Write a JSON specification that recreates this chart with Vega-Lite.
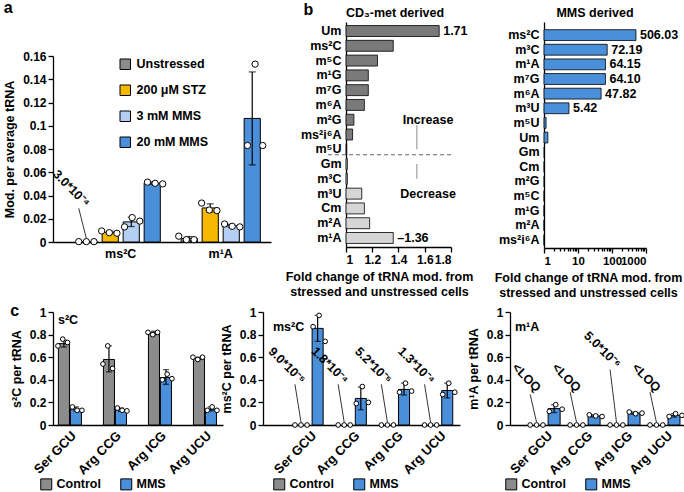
{
"$schema": "https://vega.github.io/schema/vega-lite/v6.json",
"background": "white",
"padding": {"left": 3, "top": 0, "right": 0, "bottom": 0},
"config": {
 "font": "Liberation Sans",
 "view": {"stroke": null},
 "axis": {"labelFont": "Liberation Sans", "labelFontWeight": "bold", "labelFontSize": 12, "labelColor": "black", "titleFont": "Liberation Sans", "titleFontWeight": "bold", "titleFontSize": 12.5, "titleColor": "black", "domainColor": "black", "tickColor": "black", "grid": false, "domainWidth": 1.3, "tickWidth": 1.3, "labelOverlap": false},
 "legend": {"labelFont": "Liberation Sans", "labelFontWeight": "bold", "labelFontSize": 12.5, "labelColor": "black"},
 "title": {"font": "Liberation Sans", "fontWeight": "bold", "color": "black"},
 "text": {"font": "Liberation Sans", "fontWeight": "bold", "fontSize": 12.5, "color": "black"}
},
"datasets": {
 "a_bars": [
  {"mod":"ms²C","treat":"Unstressed","mean":0.0003,"lo":null,"hi":null},
  {"mod":"ms²C","treat":"200 μM STZ","mean":0.0083,"lo":0.0073,"hi":0.0093},
  {"mod":"ms²C","treat":"3 mM MMS","mean":0.0173,"lo":0.0133,"hi":0.0213},
  {"mod":"ms²C","treat":"20 mM MMS","mean":0.0507,"lo":0.0497,"hi":0.0517},
  {"mod":"m¹A","treat":"Unstressed","mean":0.003,"lo":0.0013,"hi":0.0047},
  {"mod":"m¹A","treat":"200 μM STZ","mean":0.0293,"lo":0.0258,"hi":0.0328},
  {"mod":"m¹A","treat":"3 mM MMS","mean":0.014,"lo":0.0128,"hi":0.0152},
  {"mod":"m¹A","treat":"20 mM MMS","mean":0.1063,"lo":0.0663,"hi":0.1463}
 ],
 "a_pts": [
  {"mod":"ms²C","slot":"U1","v":0.0003},{"mod":"ms²C","slot":"U2","v":0.0003},{"mod":"ms²C","slot":"U3","v":0.0003},
  {"mod":"ms²C","slot":"S1","v":0.0095},{"mod":"ms²C","slot":"S2","v":0.008},{"mod":"ms²C","slot":"S3","v":0.0075},
  {"mod":"ms²C","slot":"L1","v":0.013},{"mod":"ms²C","slot":"L2","v":0.021},{"mod":"ms²C","slot":"L3","v":0.018},
  {"mod":"ms²C","slot":"H1","v":0.0515},{"mod":"ms²C","slot":"H2","v":0.0505},{"mod":"ms²C","slot":"H3","v":0.05},
  {"mod":"m¹A","slot":"U1","v":0.005},{"mod":"m¹A","slot":"U2","v":0.002},{"mod":"m¹A","slot":"U3","v":0.002},
  {"mod":"m¹A","slot":"S1","v":0.0335},{"mod":"m¹A","slot":"S2","v":0.0275},{"mod":"m¹A","slot":"S3","v":0.027},
  {"mod":"m¹A","slot":"L1","v":0.0155},{"mod":"m¹A","slot":"L2","v":0.0135},{"mod":"m¹A","slot":"L3","v":0.013},
  {"mod":"m¹A","slot":"H1","v":0.083},{"mod":"m¹A","slot":"H2","v":0.153},{"mod":"m¹A","slot":"H3","v":0.083}
 ],
 "a_ann": [{"mod":"ms²C","slot":"U2","v":0.033,"label":"3.0*10⁻⁴"}],
 "a_lead": [{"mod":"ms²C","slot":"U1","v":0.029,"k":0,"id":"a"},{"mod":"ms²C","slot":"U2","v":0.003,"k":1,"id":"a"}],
 "b1": [
  {"mod":"Um","fc":1.71,"dir":"inc","label":"1.71","note":null},
  {"mod":"ms²C","fc":1.36,"dir":"inc","label":null,"note":null},
  {"mod":"m⁵C","fc":1.24,"dir":"inc","label":null,"note":null},
  {"mod":"m¹G","fc":1.17,"dir":"inc","label":null,"note":null},
  {"mod":"m⁷G","fc":1.17,"dir":"inc","label":null,"note":null},
  {"mod":"m⁶A","fc":1.14,"dir":"inc","label":null,"note":null},
  {"mod":"m²G","fc":1.06,"dir":"inc","label":null,"note":"Increase"},
  {"mod":"ms²i⁶A","fc":1.05,"dir":"inc","label":null,"note":null},
  {"mod":"m⁵U","fc":1.005,"dir":"inc","label":null,"note":null},
  {"mod":"Gm","fc":1.01,"dir":"dec","label":null,"note":null},
  {"mod":"m³C","fc":1.01,"dir":"dec","label":null,"note":null},
  {"mod":"m³U","fc":1.12,"dir":"dec","label":null,"note":"Decrease"},
  {"mod":"Cm","fc":1.14,"dir":"dec","label":null,"note":null},
  {"mod":"m²A","fc":1.18,"dir":"dec","label":null,"note":null},
  {"mod":"m¹A","fc":1.36,"dir":"dec","label":"–1.36","note":null}
 ],
 "b2": [
  {"mod":"ms²C","fc":506.03,"label":"506.03"},
  {"mod":"m³C","fc":72.19,"label":"72.19"},
  {"mod":"m¹A","fc":64.15,"label":"64.15"},
  {"mod":"m⁷G","fc":64.10,"label":"64.10"},
  {"mod":"m⁶A","fc":47.82,"label":"47.82"},
  {"mod":"m³U","fc":5.42,"label":"5.42"},
  {"mod":"m⁵U","fc":1.15,"label":null},
  {"mod":"Um","fc":1.3,"label":null},
  {"mod":"Gm","fc":1.03,"label":null},
  {"mod":"Cm","fc":1.02,"label":null},
  {"mod":"m²G","fc":1.02,"label":null},
  {"mod":"m⁵C","fc":1.01,"label":null},
  {"mod":"m¹G","fc":1.005,"label":null},
  {"mod":"m²A","fc":1.003,"label":null},
  {"mod":"ms²i⁶A","fc":1.002,"label":null}
 ],
 "cl_bars": [
  {"grp":"Ser GCU","cond":"Control","mean":0.72,"lo":0.69,"hi":0.75},
  {"grp":"Ser GCU","cond":"MMS","mean":0.14,"lo":0.125,"hi":0.16},
  {"grp":"Arg CCG","cond":"Control","mean":0.58,"lo":0.47,"hi":0.70},
  {"grp":"Arg CCG","cond":"MMS","mean":0.135,"lo":0.12,"hi":0.15},
  {"grp":"Arg ICG","cond":"Control","mean":0.815,"lo":0.80,"hi":0.83},
  {"grp":"Arg ICG","cond":"MMS","mean":0.42,"lo":0.36,"hi":0.49},
  {"grp":"Arg UCU","cond":"Control","mean":0.59,"lo":0.58,"hi":0.60},
  {"grp":"Arg UCU","cond":"MMS","mean":0.14,"lo":0.125,"hi":0.16}
 ],
 "cl_pts": [
  {"grp":"Ser GCU","slot":"C1","v":0.70},{"grp":"Ser GCU","slot":"C2","v":0.76},{"grp":"Ser GCU","slot":"C3","v":0.73},
  {"grp":"Ser GCU","slot":"M1","v":0.16},{"grp":"Ser GCU","slot":"M2","v":0.13},{"grp":"Ser GCU","slot":"M3","v":0.13},
  {"grp":"Arg CCG","slot":"C1","v":0.54},{"grp":"Arg CCG","slot":"C2","v":0.70},{"grp":"Arg CCG","slot":"C3","v":0.50},
  {"grp":"Arg CCG","slot":"M1","v":0.15},{"grp":"Arg CCG","slot":"M2","v":0.13},{"grp":"Arg CCG","slot":"M3","v":0.125},
  {"grp":"Arg ICG","slot":"C1","v":0.82},{"grp":"Arg ICG","slot":"C2","v":0.80},{"grp":"Arg ICG","slot":"C3","v":0.82},
  {"grp":"Arg ICG","slot":"M1","v":0.40},{"grp":"Arg ICG","slot":"M2","v":0.45},{"grp":"Arg ICG","slot":"M3","v":0.41},
  {"grp":"Arg UCU","slot":"C1","v":0.60},{"grp":"Arg UCU","slot":"C2","v":0.58},{"grp":"Arg UCU","slot":"C3","v":0.60},
  {"grp":"Arg UCU","slot":"M1","v":0.13},{"grp":"Arg UCU","slot":"M2","v":0.16},{"grp":"Arg UCU","slot":"M3","v":0.13}
 ],
 "cm_bars": [
  {"grp":"Ser GCU","cond":"MMS","mean":0.855,"lo":0.74,"hi":0.97},
  {"grp":"Arg CCG","cond":"MMS","mean":0.235,"lo":0.135,"hi":0.335},
  {"grp":"Arg ICG","cond":"MMS","mean":0.315,"lo":0.265,"hi":0.37},
  {"grp":"Arg UCU","cond":"MMS","mean":0.305,"lo":0.24,"hi":0.37}
 ],
 "cm_pts": [
  {"grp":"Ser GCU","slot":"C1","v":0.0},{"grp":"Ser GCU","slot":"C2","v":0.0},{"grp":"Ser GCU","slot":"C3","v":0.0},
  {"grp":"Ser GCU","slot":"M1","v":0.87},{"grp":"Ser GCU","slot":"M2","v":0.97},{"grp":"Ser GCU","slot":"M3","v":0.74},
  {"grp":"Arg CCG","slot":"C1","v":0.0},{"grp":"Arg CCG","slot":"C2","v":0.0},{"grp":"Arg CCG","slot":"C3","v":0.0},
  {"grp":"Arg CCG","slot":"M1","v":0.19},{"grp":"Arg CCG","slot":"M2","v":0.34},{"grp":"Arg CCG","slot":"M3","v":0.20},
  {"grp":"Arg ICG","slot":"C1","v":0.0},{"grp":"Arg ICG","slot":"C2","v":0.0},{"grp":"Arg ICG","slot":"C3","v":0.0},
  {"grp":"Arg ICG","slot":"M1","v":0.29},{"grp":"Arg ICG","slot":"M2","v":0.37},{"grp":"Arg ICG","slot":"M3","v":0.30},
  {"grp":"Arg UCU","slot":"C1","v":0.0},{"grp":"Arg UCU","slot":"C2","v":0.0},{"grp":"Arg UCU","slot":"C3","v":0.0},
  {"grp":"Arg UCU","slot":"M1","v":0.27},{"grp":"Arg UCU","slot":"M2","v":0.37},{"grp":"Arg UCU","slot":"M3","v":0.29}
 ],
 "cm_ann": [
  {"grp":"Ser GCU","slot":"C2","v":0.40,"label":"9.0*10⁻⁵"},
  {"grp":"Arg CCG","slot":"C2","v":0.40,"label":"1.8*10⁻⁴"},
  {"grp":"Arg ICG","slot":"C2","v":0.40,"label":"5.2*10⁻⁵"},
  {"grp":"Arg UCU","slot":"C2","v":0.40,"label":"1.3*10⁻⁴"}
 ],
 "cm_lead": [
  {"grp":"Ser GCU","slot":"C1","v":0.36,"k":0,"id":"s"},{"grp":"Ser GCU","slot":"C2","v":0.025,"k":1,"id":"s"},
  {"grp":"Arg CCG","slot":"C1","v":0.36,"k":0,"id":"c"},{"grp":"Arg CCG","slot":"C2","v":0.025,"k":1,"id":"c"},
  {"grp":"Arg ICG","slot":"C1","v":0.36,"k":0,"id":"i"},{"grp":"Arg ICG","slot":"C2","v":0.025,"k":1,"id":"i"},
  {"grp":"Arg UCU","slot":"C1","v":0.36,"k":0,"id":"u"},{"grp":"Arg UCU","slot":"C2","v":0.025,"k":1,"id":"u"}
 ],
 "cr_bars": [
  {"grp":"Ser GCU","cond":"MMS","mean":0.145,"lo":0.11,"hi":0.18},
  {"grp":"Arg CCG","cond":"MMS","mean":0.08,"lo":0.07,"hi":0.09},
  {"grp":"Arg ICG","cond":"MMS","mean":0.105,"lo":0.095,"hi":0.115},
  {"grp":"Arg UCU","cond":"MMS","mean":0.085,"lo":0.07,"hi":0.10}
 ],
 "cr_pts": [
  {"grp":"Ser GCU","slot":"C1","v":0.0},{"grp":"Ser GCU","slot":"C2","v":0.0},{"grp":"Ser GCU","slot":"C3","v":0.0},
  {"grp":"Ser GCU","slot":"M1","v":0.12},{"grp":"Ser GCU","slot":"M2","v":0.18},{"grp":"Ser GCU","slot":"M3","v":0.14},
  {"grp":"Arg CCG","slot":"C1","v":0.0},{"grp":"Arg CCG","slot":"C2","v":0.0},{"grp":"Arg CCG","slot":"C3","v":0.0},
  {"grp":"Arg CCG","slot":"M1","v":0.09},{"grp":"Arg CCG","slot":"M2","v":0.08},{"grp":"Arg CCG","slot":"M3","v":0.075},
  {"grp":"Arg ICG","slot":"C1","v":0.0},{"grp":"Arg ICG","slot":"C2","v":0.0},{"grp":"Arg ICG","slot":"C3","v":0.0},
  {"grp":"Arg ICG","slot":"M1","v":0.115},{"grp":"Arg ICG","slot":"M2","v":0.10},{"grp":"Arg ICG","slot":"M3","v":0.105},
  {"grp":"Arg UCU","slot":"C1","v":0.0},{"grp":"Arg UCU","slot":"C2","v":0.0},{"grp":"Arg UCU","slot":"C3","v":0.0},
  {"grp":"Arg UCU","slot":"M1","v":0.075},{"grp":"Arg UCU","slot":"M2","v":0.10},{"grp":"Arg UCU","slot":"M3","v":0.085}
 ],
 "cr_ann": [
  {"grp":"Ser GCU","slot":"C2","v":0.33,"label":"<LOQ"},
  {"grp":"Arg CCG","slot":"C2","v":0.33,"label":"<LOQ"},
  {"grp":"Arg ICG","slot":"C2","v":0.54,"label":"5.0*10⁻⁶"},
  {"grp":"Arg UCU","slot":"C2","v":0.33,"label":"<LOQ"}
 ],
 "cr_lead": [
  {"grp":"Ser GCU","slot":"C1","v":0.27,"k":0,"id":"s"},{"grp":"Ser GCU","slot":"C2","v":0.025,"k":1,"id":"s"},
  {"grp":"Arg CCG","slot":"C1","v":0.29,"k":0,"id":"c"},{"grp":"Arg CCG","slot":"C2","v":0.025,"k":1,"id":"c"},
  {"grp":"Arg ICG","slot":"C1","v":0.49,"k":0,"id":"i"},{"grp":"Arg ICG","slot":"C2","v":0.025,"k":1,"id":"i"},
  {"grp":"Arg UCU","slot":"C1","v":0.29,"k":0,"id":"u"},{"grp":"Arg UCU","slot":"C2","v":0.025,"k":1,"id":"u"}
 ]
},
"spacing": 4,
"resolve": {"scale": {"color": "independent"}, "legend": {"color": "independent"}},
"vconcat": [
 {"bounds": "flush", "spacing": 75,
  "resolve": {"scale": {"color": "independent", "y": "independent", "x": "independent"}, "legend": {"color": "independent"}},
  "hconcat": [
  {
   "width": 218, "height": 220,
   "title": {"text": "a", "anchor": "start", "frame": "bounds", "fontSize": 16, "offset": 6},
   "resolve": {"scale": {"xOffset": "independent"}},
   "encoding": {
    "x": {"field": "mod", "type": "nominal", "sort": ["ms²C","m¹A"], "scale": {"domain": ["ms²C","m¹A"], "paddingInner": 0.16, "paddingOuter": 0.17, "align": 0.757}, "axis": {"title": null, "labelAngle": 0, "ticks": false, "labelPadding": 5, "labelFontSize": 12.5}}
   },
   "layer": [
    {"data": {"name": "a_bars"},
     "mark": {"type": "bar", "stroke": "black", "strokeWidth": 1},
     "encoding": {
      "xOffset": {"field": "treat", "type": "nominal", "sort": ["Unstressed","200 μM STZ","3 mM MMS","20 mM MMS"], "scale": {"domain": ["Unstressed","200 μM STZ","3 mM MMS","20 mM MMS"], "paddingInner": 0.23, "paddingOuter": 0.115}},
      "y": {"field": "mean", "type": "quantitative", "title": "Mod. per average tRNA", "scale": {"domain": [0, 0.16], "range": [220, 34], "nice": false}, "axis": {"values": [0,0.02,0.04,0.06,0.08,0.1,0.12,0.14,0.16], "format": "~g", "tickSize": 5, "titlePadding": 6, "labelOverlap": false}},
      "color": {"field": "treat", "type": "nominal", "sort": ["Unstressed","200 μM STZ","3 mM MMS","20 mM MMS"], "scale": {"domain": ["Unstressed","200 μM STZ","3 mM MMS","20 mM MMS"], "range": ["#8c8c8c","#f6b900","#b5cff3","#4a8fd9"]},
        "legend": {"orient": "none", "legendX": 66, "legendY": 36, "title": null, "symbolType": "square", "symbolSize": 110, "symbolStrokeColor": "black", "symbolStrokeWidth": 1, "rowPadding": 11, "labelOffset": 5}}
     }},
    {"data": {"name": "a_bars"}, "transform": [{"filter": "datum.hi != null"}],
     "mark": {"type": "rule", "color": "black", "strokeWidth": 1.2},
     "encoding": {
      "xOffset": {"field": "treat", "type": "nominal", "scale": {"domain": ["Unstressed","200 μM STZ","3 mM MMS","20 mM MMS"], "paddingInner": 0.23, "paddingOuter": 0.115}},
      "y": {"field": "lo", "type": "quantitative", "title": "Mod. per average tRNA", "axis": {"values": [0,0.02,0.04,0.06,0.08,0.1,0.12,0.14,0.16], "format": "~g", "tickSize": 5, "titlePadding": 6, "labelOverlap": false}}, "y2": {"field": "hi"}
     }},
    {"data": {"name": "a_bars"}, "transform": [{"filter": "datum.hi != null"}],
     "mark": {"type": "tick", "color": "black", "thickness": 1.2, "size": 7},
     "encoding": {
      "xOffset": {"field": "treat", "type": "nominal", "scale": {"domain": ["Unstressed","200 μM STZ","3 mM MMS","20 mM MMS"], "paddingInner": 0.23, "paddingOuter": 0.115}},
      "y": {"field": "hi", "type": "quantitative", "title": "Mod. per average tRNA", "axis": {"values": [0,0.02,0.04,0.06,0.08,0.1,0.12,0.14,0.16], "format": "~g", "tickSize": 5, "titlePadding": 6, "labelOverlap": false}}
     }},
    {"data": {"name": "a_bars"}, "transform": [{"filter": "datum.hi != null"}],
     "mark": {"type": "tick", "color": "black", "thickness": 1.2, "size": 7},
     "encoding": {
      "xOffset": {"field": "treat", "type": "nominal", "scale": {"domain": ["Unstressed","200 μM STZ","3 mM MMS","20 mM MMS"], "paddingInner": 0.23, "paddingOuter": 0.115}},
      "y": {"field": "lo", "type": "quantitative", "title": "Mod. per average tRNA", "axis": {"values": [0,0.02,0.04,0.06,0.08,0.1,0.12,0.14,0.16], "format": "~g", "tickSize": 5, "titlePadding": 6, "labelOverlap": false}}
     }},
    {"data": {"name": "a_lead"},
     "mark": {"type": "line", "color": "black", "strokeWidth": 0.8},
     "encoding": {
      "xOffset": {"field": "slot", "type": "nominal", "scale": {"domain": ["U1","U2","U3","S1","S2","S3","L1","L2","L3","H1","H2","H3"], "paddingInner": 0, "paddingOuter": 0}},
      "y": {"field": "v", "type": "quantitative", "title": "Mod. per average tRNA", "axis": {"values": [0,0.02,0.04,0.06,0.08,0.1,0.12,0.14,0.16], "format": "~g", "tickSize": 5, "titlePadding": 6, "labelOverlap": false}},
      "order": {"field": "k"}, "detail": {"field": "id"}
     }},
    {"data": {"name": "a_pts"},
     "mark": {"type": "point", "shape": "circle", "filled": true, "fill": "white", "stroke": "black", "strokeWidth": 1, "size": 40, "opacity": 1},
     "encoding": {
      "xOffset": {"field": "slot", "type": "nominal", "scale": {"domain": ["U1","U2","U3","S1","S2","S3","L1","L2","L3","H1","H2","H3"], "paddingInner": 0, "paddingOuter": 0}},
      "y": {"field": "v", "type": "quantitative", "title": "Mod. per average tRNA", "axis": {"values": [0,0.02,0.04,0.06,0.08,0.1,0.12,0.14,0.16], "format": "~g", "tickSize": 5, "titlePadding": 6, "labelOverlap": false}}
     }},
    {"data": {"name": "a_ann"},
     "mark": {"type": "text", "angle": 45, "align": "right", "baseline": "middle", "dx": 2},
     "encoding": {
      "xOffset": {"field": "slot", "type": "nominal", "scale": {"domain": ["U1","U2","U3","S1","S2","S3","L1","L2","L3","H1","H2","H3"], "paddingInner": 0, "paddingOuter": 0}},
      "y": {"field": "v", "type": "quantitative", "title": "Mod. per average tRNA", "axis": {"values": [0,0.02,0.04,0.06,0.08,0.1,0.12,0.14,0.16], "format": "~g", "tickSize": 5, "titlePadding": 6, "labelOverlap": false}},
      "text": {"field": "label"}
     }}
   ]
  },
  {
   "width": 123, "height": 225,
   "title": {"text": "CD₃-met derived", "anchor": "start", "frame": "group", "fontSize": 12.5, "offset": -18},
   "data": {"name": "b1"},
   "encoding": {
    "y": {"field": "mod", "type": "nominal", "sort": null, "scale": {"domain": ["Um","ms²C","m⁵C","m¹G","m⁷G","m⁶A","m²G","ms²i⁶A","m⁵U","Gm","m³C","m³U","Cm","m²A","m¹A"], "paddingInner": 0.26, "paddingOuter": 0.24}, "axis": {"title": "b", "titleAngle": 0, "titleAlign": "left", "titleBaseline": "alphabetic", "titleX": -43, "titleY": -8, "titleFontSize": 16, "ticks": false, "labelPadding": 5, "labelFontSize": 12.5}},
    "x": {"field": "fc", "type": "quantitative", "scale": {"domain": [1, 1.8], "range": [0, 105], "nice": false, "zero": false}, "axis": {"values": [1,1.2,1.4,1.6,1.8], "format": "~g", "tickSize": 5, "labelOverlap": false, "title": ["Fold change of tRNA mod. from", "stressed and unstressed cells"], "titleX": 33, "titlePadding": 5, "titleLineHeight": 15}}
   },
   "layer": [
    {"mark": {"type": "bar", "stroke": "black", "strokeWidth": 0.8},
     "encoding": {
      "x2": {"datum": 1},
      "color": {"field": "dir", "type": "nominal", "scale": {"domain": ["inc","dec"], "range": ["#7a7a7a","#d6d6d6"]}, "legend": null}
     }},
    {"transform": [{"filter": "datum.label != null"}],
     "mark": {"type": "text", "align": "left", "baseline": "middle", "dx": 4},
     "encoding": {"text": {"field": "label"}}},
    {"transform": [{"filter": "datum.mod == 'm⁵U'"}],
     "mark": {"type": "rule", "strokeDash": [4, 3], "color": "#666666", "strokeWidth": 1},
     "encoding": {"y": {"field": "mod", "type": "nominal", "bandPosition": 1}, "x": {"datum": 0.863}, "x2": {"datum": 1.82}}},
    {"transform": [{"filter": "datum.mod == 'm²G'"}],
     "mark": {"type": "rule", "color": "#888888", "strokeWidth": 1},
     "encoding": {"y": {"field": "mod", "type": "nominal", "bandPosition": 1}, "y2": {"datum": "m⁵U"}, "x": {"datum": 1.54}}},
    {"transform": [{"filter": "datum.mod == 'Gm'"}],
     "mark": {"type": "rule", "color": "#888888", "strokeWidth": 1},
     "encoding": {"y2": {"datum": "m³C"}, "x": {"datum": 1.54}}},
    {"transform": [{"filter": "datum.note != null"}],
     "mark": {"type": "text", "align": "center", "baseline": "middle"},
     "encoding": {"x": {"datum": 1.625}, "text": {"field": "note"}}}
   ]
  },
  {
   "width": 102, "height": 226,
   "title": {"text": "MMS derived", "anchor": "middle", "fontSize": 12.5, "offset": 3},
   "data": {"name": "b2"},
   "encoding": {
    "y": {"field": "mod", "type": "nominal", "sort": null, "scale": {"domain": ["ms²C","m³C","m¹A","m⁷G","m⁶A","m³U","m⁵U","Um","Gm","Cm","m²G","m⁵C","m¹G","m²A","ms²i⁶A"], "paddingInner": 0.26, "paddingOuter": 0.35, "align": 0.75}, "axis": {"title": null, "ticks": false, "labelPadding": 5, "labelFontSize": 12.5}},
    "x": {"field": "fc", "type": "quantitative", "scale": {"type": "log", "domain": [1, 1000], "nice": false}, "axis": {"values": [1,2,3,4,5,6,7,8,9,10,20,30,40,50,60,70,80,90,100,200,300,400,500,600,700,800,900,1000], "labelExpr": "indexof([1,10,100,1000], datum.value) >= 0 ? format(datum.value, 'd') : ''", "labelOverlap": false, "tickSize": {"condition": {"test": "indexof([1,10,100,1000], datum.value) >= 0", "value": 5}, "value": 3}, "title": ["Fold change of tRNA mod. from", "stressed and unstressed cells"], "titleX": 44, "titlePadding": 5, "titleLineHeight": 15, "labelFontSize": 11.5}}
   },
   "layer": [
    {"mark": {"type": "bar", "stroke": "black", "strokeWidth": 0.8, "color": "#4a8fd9"},
     "encoding": {"x2": {"datum": 1}}},
    {"transform": [{"filter": "datum.label != null"}],
     "mark": {"type": "text", "align": "left", "baseline": "middle", "dx": 4},
     "encoding": {"text": {"field": "label"}}}
   ]
  }
 ]},
 {"bounds": "flush", "spacing": 40,
  "resolve": {"scale": {"color": "independent", "y": "independent", "x": "independent"}, "legend": {"color": "independent"}},
  "hconcat": [
  {
   "width": 170, "height": 113,
   "title": {"text": "c", "anchor": "start", "frame": "bounds", "fontSize": 16, "offset": -13},
   "resolve": {"scale": {"xOffset": "independent"}},
   "encoding": {
    "x": {"field": "grp", "type": "nominal", "sort": ["Ser GCU","Arg CCG","Arg ICG","Arg UCU"], "scale": {"domain": ["Ser GCU","Arg CCG","Arg ICG","Arg UCU"], "paddingInner": 0.467, "paddingOuter": 0.122, "align": 0.45}, "axis": {"title": null, "labelAngle": -45, "ticks": false, "labelPadding": 4, "labelFontSize": 13}}
   },
   "layer": [
    {"data": {"name": "cl_bars"},
     "mark": {"type": "bar", "stroke": "black", "strokeWidth": 1},
     "encoding": {
      "xOffset": {"field": "cond", "type": "nominal", "scale": {"domain": ["Control","MMS"], "paddingInner": 0.08, "paddingOuter": 0.04}},
      "y": {"field": "mean", "type": "quantitative", "title": "s²C per tRNA", "scale": {"domain": [0, 1], "nice": false}, "axis": {"values": [0,0.2,0.4,0.6,0.8,1], "format": "~g", "tickSize": 5, "titlePadding": 6, "labelOverlap": false}},
      "color": {"field": "cond", "type": "nominal", "scale": {"domain": ["Control","MMS"], "range": ["#8c8c8c","#4a8fd9"]},
        "legend": {"orient": "none", "legendX": -13, "legendY": 166, "direction": "horizontal", "title": null, "symbolType": "square", "symbolSize": 121, "symbolStrokeColor": "black", "symbolStrokeWidth": 1, "columnPadding": 17, "labelOffset": 4}}
     }},
    {"data": {"name": "cl_bars"},
     "mark": {"type": "rule", "color": "black", "strokeWidth": 1.2},
     "encoding": {"xOffset": {"field": "cond", "type": "nominal", "scale": {"domain": ["Control","MMS"], "paddingInner": 0.08, "paddingOuter": 0.04}}, "y": {"field": "lo", "type": "quantitative", "title": "s²C per tRNA", "axis": {"values": [0,0.2,0.4,0.6,0.8,1], "format": "~g", "tickSize": 5, "titlePadding": 6, "labelOverlap": false}}, "y2": {"field": "hi"}}},
    {"data": {"name": "cl_bars"},
     "mark": {"type": "tick", "color": "black", "thickness": 1.2, "size": 6},
     "encoding": {"xOffset": {"field": "cond", "type": "nominal", "scale": {"domain": ["Control","MMS"], "paddingInner": 0.08, "paddingOuter": 0.04}}, "y": {"field": "hi", "type": "quantitative", "title": "s²C per tRNA", "axis": {"values": [0,0.2,0.4,0.6,0.8,1], "format": "~g", "tickSize": 5, "titlePadding": 6, "labelOverlap": false}}}},
    {"data": {"name": "cl_bars"},
     "mark": {"type": "tick", "color": "black", "thickness": 1.2, "size": 6},
     "encoding": {"xOffset": {"field": "cond", "type": "nominal", "scale": {"domain": ["Control","MMS"], "paddingInner": 0.08, "paddingOuter": 0.04}}, "y": {"field": "lo", "type": "quantitative", "title": "s²C per tRNA", "axis": {"values": [0,0.2,0.4,0.6,0.8,1], "format": "~g", "tickSize": 5, "titlePadding": 6, "labelOverlap": false}}}},
    {"data": {"name": "cl_pts"},
     "mark": {"type": "point", "shape": "circle", "filled": true, "fill": "white", "stroke": "black", "strokeWidth": 1, "size": 22, "opacity": 1},
     "encoding": {"xOffset": {"field": "slot", "type": "nominal", "scale": {"domain": ["C1","C2","C3","M1","M2","M3"], "paddingInner": 0, "paddingOuter": 0}}, "y": {"field": "v", "type": "quantitative", "title": "s²C per tRNA", "axis": {"values": [0,0.2,0.4,0.6,0.8,1], "format": "~g", "tickSize": 5, "titlePadding": 6, "labelOverlap": false}}}},
    {"data": {"name": "cl_pts"}, "transform": [{"filter": "datum.grp == 'Ser GCU' && datum.slot == 'C1'"}],
     "mark": {"type": "text", "align": "left", "baseline": "middle"},
     "encoding": {"x": {"field": "grp", "type": "nominal", "bandPosition": 0}, "y": {"datum": 0.93, "type": "quantitative", "title": "s²C per tRNA", "axis": {"values": [0,0.2,0.4,0.6,0.8,1], "format": "~g", "tickSize": 5, "titlePadding": 6, "labelOverlap": false}}, "text": {"value": "s²C"}}}
   ]
  },
  {
   "width": 207, "height": 113,
   "title": {"text": "ms²C", "anchor": "start", "frame": "group", "fontSize": 12.5, "dx": 10, "offset": -27},
   "resolve": {"scale": {"xOffset": "independent"}},
   "encoding": {
    "x": {"field": "grp", "type": "nominal", "sort": ["Ser GCU","Arg CCG","Arg ICG","Arg UCU"], "scale": {"domain": ["Ser GCU","Arg CCG","Arg ICG","Arg UCU"], "range": [0, 197], "paddingInner": 0.3, "paddingOuter": 0.43, "align": 0.86}, "axis": {"title": null, "labelAngle": -45, "ticks": false, "labelPadding": 4, "labelFontSize": 13}}
   },
   "layer": [
    {"data": {"name": "cm_bars"},
     "mark": {"type": "bar", "stroke": "black", "strokeWidth": 1},
     "encoding": {
      "xOffset": {"field": "cond", "type": "nominal", "scale": {"domain": ["Control","MMS"], "paddingInner": 0.27, "paddingOuter": 0.135}},
      "y": {"field": "mean", "type": "quantitative", "title": "ms²C per tRNA", "scale": {"domain": [0, 1], "nice": false}, "axis": {"values": [0,0.2,0.4,0.6,0.8,1], "format": "~g", "tickSize": 5, "titlePadding": 6, "labelOverlap": false}},
      "color": {"field": "cond", "type": "nominal", "scale": {"domain": ["Control","MMS"], "range": ["#8c8c8c","#4a8fd9"]},
        "legend": {"orient": "none", "legendX": 10, "legendY": 166, "direction": "horizontal", "title": null, "symbolType": "square", "symbolSize": 121, "symbolStrokeColor": "black", "symbolStrokeWidth": 1, "columnPadding": 17, "labelOffset": 4}}
     }},
    {"data": {"name": "cm_bars"},
     "mark": {"type": "rule", "color": "black", "strokeWidth": 1.2},
     "encoding": {"xOffset": {"field": "cond", "type": "nominal", "scale": {"domain": ["Control","MMS"], "paddingInner": 0.27, "paddingOuter": 0.135}}, "y": {"field": "lo", "type": "quantitative", "title": "ms²C per tRNA", "axis": {"values": [0,0.2,0.4,0.6,0.8,1], "format": "~g", "tickSize": 5, "titlePadding": 6, "labelOverlap": false}}, "y2": {"field": "hi"}}},
    {"data": {"name": "cm_bars"},
     "mark": {"type": "tick", "color": "black", "thickness": 1.2, "size": 6},
     "encoding": {"xOffset": {"field": "cond", "type": "nominal", "scale": {"domain": ["Control","MMS"], "paddingInner": 0.27, "paddingOuter": 0.135}}, "y": {"field": "hi", "type": "quantitative", "title": "ms²C per tRNA", "axis": {"values": [0,0.2,0.4,0.6,0.8,1], "format": "~g", "tickSize": 5, "titlePadding": 6, "labelOverlap": false}}}},
    {"data": {"name": "cm_bars"},
     "mark": {"type": "tick", "color": "black", "thickness": 1.2, "size": 6},
     "encoding": {"xOffset": {"field": "cond", "type": "nominal", "scale": {"domain": ["Control","MMS"], "paddingInner": 0.27, "paddingOuter": 0.135}}, "y": {"field": "lo", "type": "quantitative", "title": "ms²C per tRNA", "axis": {"values": [0,0.2,0.4,0.6,0.8,1], "format": "~g", "tickSize": 5, "titlePadding": 6, "labelOverlap": false}}}},
    {"data": {"name": "cm_lead"},
     "mark": {"type": "line", "color": "black", "strokeWidth": 0.8},
     "encoding": {"xOffset": {"field": "slot", "type": "nominal", "scale": {"domain": ["C1","C2","C3","M1","M2","M3"], "paddingInner": 0, "paddingOuter": 0}}, "y": {"field": "v", "type": "quantitative", "title": "ms²C per tRNA", "axis": {"values": [0,0.2,0.4,0.6,0.8,1], "format": "~g", "tickSize": 5, "titlePadding": 6, "labelOverlap": false}}, "order": {"field": "k"}, "detail": {"field": "id"}}},
    {"data": {"name": "cm_pts"},
     "mark": {"type": "point", "shape": "circle", "filled": true, "fill": "white", "stroke": "black", "strokeWidth": 1, "size": 22, "opacity": 1},
     "encoding": {"xOffset": {"field": "slot", "type": "nominal", "scale": {"domain": ["C1","C2","C3","M1","M2","M3"], "paddingInner": 0, "paddingOuter": 0}}, "y": {"field": "v", "type": "quantitative", "title": "ms²C per tRNA", "axis": {"values": [0,0.2,0.4,0.6,0.8,1], "format": "~g", "tickSize": 5, "titlePadding": 6, "labelOverlap": false}}}},
    {"data": {"name": "cm_ann"},
     "mark": {"type": "text", "angle": 45, "align": "right", "baseline": "middle", "dx": 3},
     "encoding": {"xOffset": {"field": "slot", "type": "nominal", "scale": {"domain": ["C1","C2","C3","M1","M2","M3"], "paddingInner": 0, "paddingOuter": 0}}, "y": {"field": "v", "type": "quantitative", "title": "ms²C per tRNA", "axis": {"values": [0,0.2,0.4,0.6,0.8,1], "format": "~g", "tickSize": 5, "titlePadding": 6, "labelOverlap": false}}, "text": {"field": "label"}}}
   ]
  },
  {
   "width": 175, "height": 113,
   "title": {"text": "m¹A", "anchor": "start", "frame": "group", "fontSize": 12.5, "dx": 5, "offset": -27},
   "resolve": {"scale": {"xOffset": "independent"}},
   "encoding": {
    "x": {"field": "grp", "type": "nominal", "sort": ["Ser GCU","Arg CCG","Arg ICG","Arg UCU"], "scale": {"domain": ["Ser GCU","Arg CCG","Arg ICG","Arg UCU"], "paddingInner": 0.2, "paddingOuter": 0.29, "align": 0.87}, "axis": {"title": null, "labelAngle": -45, "ticks": false, "labelPadding": 4, "labelFontSize": 13}}
   },
   "layer": [
    {"data": {"name": "cr_bars"},
     "mark": {"type": "bar", "stroke": "black", "strokeWidth": 1},
     "encoding": {
      "xOffset": {"field": "cond", "type": "nominal", "scale": {"domain": ["Control","MMS"], "paddingInner": 0.25, "paddingOuter": 0.125}},
      "y": {"field": "mean", "type": "quantitative", "title": "m¹A per tRNA", "scale": {"domain": [0, 1], "nice": false}, "axis": {"values": [0,0.2,0.4,0.6,0.8,1], "format": "~g", "tickSize": 5, "titlePadding": 6, "labelOverlap": false}},
      "color": {"field": "cond", "type": "nominal", "scale": {"domain": ["Control","MMS"], "range": ["#8c8c8c","#4a8fd9"]},
        "legend": {"orient": "none", "legendX": -5, "legendY": 166, "direction": "horizontal", "title": null, "symbolType": "square", "symbolSize": 121, "symbolStrokeColor": "black", "symbolStrokeWidth": 1, "columnPadding": 17, "labelOffset": 4}}
     }},
    {"data": {"name": "cr_bars"},
     "mark": {"type": "rule", "color": "black", "strokeWidth": 1.2},
     "encoding": {"xOffset": {"field": "cond", "type": "nominal", "scale": {"domain": ["Control","MMS"], "paddingInner": 0.25, "paddingOuter": 0.125}}, "y": {"field": "lo", "type": "quantitative", "title": "m¹A per tRNA", "axis": {"values": [0,0.2,0.4,0.6,0.8,1], "format": "~g", "tickSize": 5, "titlePadding": 6, "labelOverlap": false}}, "y2": {"field": "hi"}}},
    {"data": {"name": "cr_bars"},
     "mark": {"type": "tick", "color": "black", "thickness": 1.2, "size": 6},
     "encoding": {"xOffset": {"field": "cond", "type": "nominal", "scale": {"domain": ["Control","MMS"], "paddingInner": 0.25, "paddingOuter": 0.125}}, "y": {"field": "hi", "type": "quantitative", "title": "m¹A per tRNA", "axis": {"values": [0,0.2,0.4,0.6,0.8,1], "format": "~g", "tickSize": 5, "titlePadding": 6, "labelOverlap": false}}}},
    {"data": {"name": "cr_bars"},
     "mark": {"type": "tick", "color": "black", "thickness": 1.2, "size": 6},
     "encoding": {"xOffset": {"field": "cond", "type": "nominal", "scale": {"domain": ["Control","MMS"], "paddingInner": 0.25, "paddingOuter": 0.125}}, "y": {"field": "lo", "type": "quantitative", "title": "m¹A per tRNA", "axis": {"values": [0,0.2,0.4,0.6,0.8,1], "format": "~g", "tickSize": 5, "titlePadding": 6, "labelOverlap": false}}}},
    {"data": {"name": "cr_lead"},
     "mark": {"type": "line", "color": "black", "strokeWidth": 0.8},
     "encoding": {"xOffset": {"field": "slot", "type": "nominal", "scale": {"domain": ["C1","C2","C3","M1","M2","M3"], "paddingInner": 0, "paddingOuter": 0}}, "y": {"field": "v", "type": "quantitative", "title": "m¹A per tRNA", "axis": {"values": [0,0.2,0.4,0.6,0.8,1], "format": "~g", "tickSize": 5, "titlePadding": 6, "labelOverlap": false}}, "order": {"field": "k"}, "detail": {"field": "id"}}},
    {"data": {"name": "cr_pts"},
     "mark": {"type": "point", "shape": "circle", "filled": true, "fill": "white", "stroke": "black", "strokeWidth": 1, "size": 22, "opacity": 1},
     "encoding": {"xOffset": {"field": "slot", "type": "nominal", "scale": {"domain": ["C1","C2","C3","M1","M2","M3"], "paddingInner": 0, "paddingOuter": 0}}, "y": {"field": "v", "type": "quantitative", "title": "m¹A per tRNA", "axis": {"values": [0,0.2,0.4,0.6,0.8,1], "format": "~g", "tickSize": 5, "titlePadding": 6, "labelOverlap": false}}}},
    {"data": {"name": "cr_ann"},
     "mark": {"type": "text", "angle": 45, "align": "right", "baseline": "middle", "dx": 3},
     "encoding": {"xOffset": {"field": "slot", "type": "nominal", "scale": {"domain": ["C1","C2","C3","M1","M2","M3"], "paddingInner": 0, "paddingOuter": 0}}, "y": {"field": "v", "type": "quantitative", "title": "m¹A per tRNA", "axis": {"values": [0,0.2,0.4,0.6,0.8,1], "format": "~g", "tickSize": 5, "titlePadding": 6, "labelOverlap": false}}, "text": {"field": "label"}}}
   ]
  }
 ]}
]
}
